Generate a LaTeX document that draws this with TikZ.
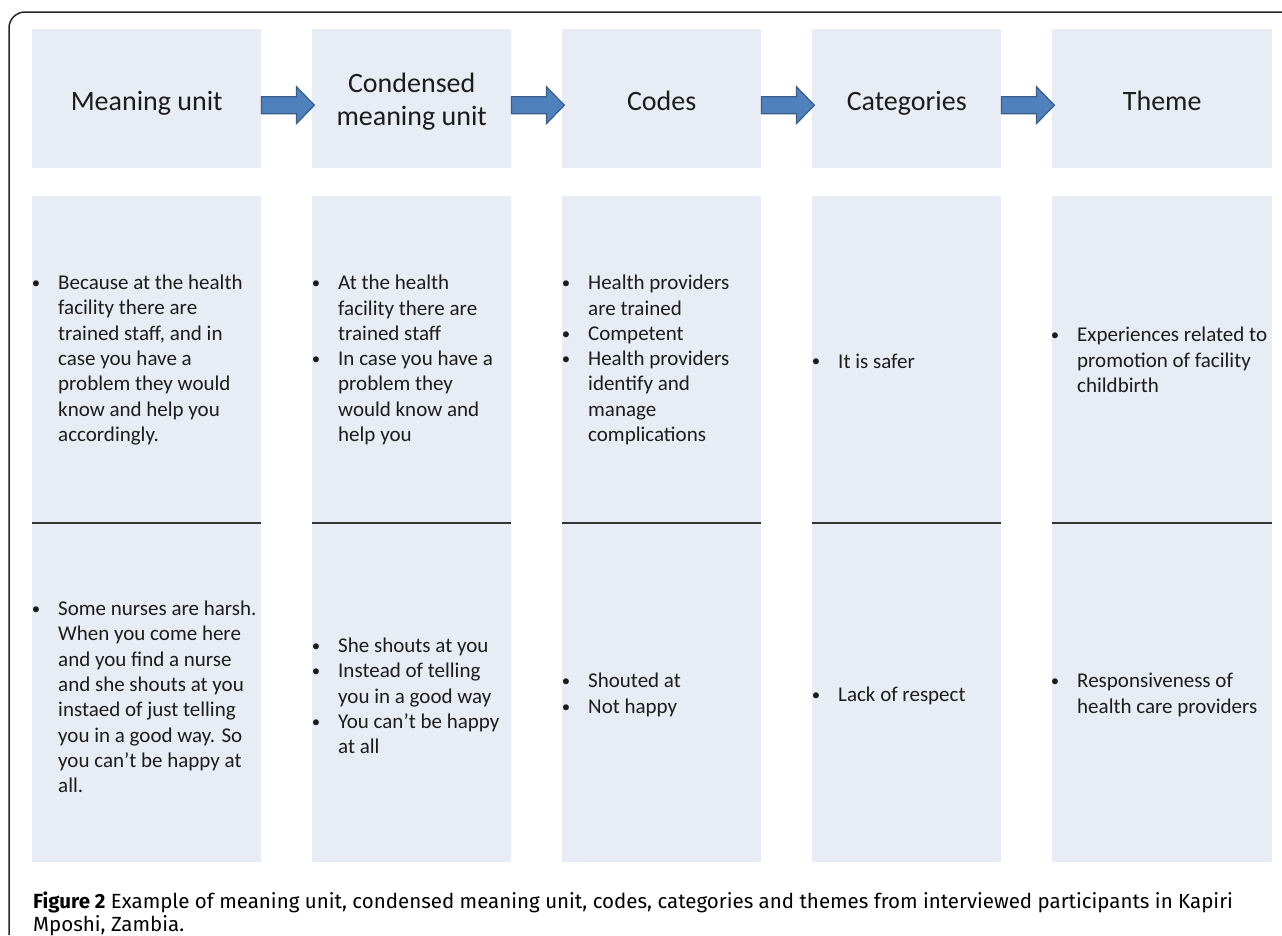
\documentclass[tikz,border=0pt]{standalone}
\usepackage{fontspec}
\setmainfont{Carlito}
\newfontfamily\capfont{Fira Sans}
\usetikzlibrary{arrows,shapes}

\definecolor{boxfill}{RGB}{232,236,244}
\definecolor{arrowfill}{RGB}{79,129,189}
\definecolor{arrowline}{RGB}{56,93,138}
\definecolor{textgray}{RGB}{28,28,28}

\newcommand{\bul}{\llap{\raisebox{1.2pt}{\scalebox{0.8}{\textbullet}}\hspace{18pt}}}

\begin{document}
\begin{tikzpicture}[x=1pt, y=-1pt, >=latex]
		\useasboundingbox (0,0) rectangle (1282,935);
		\tikzstyle{every node} = [inner sep=0pt, text=textgray]
		\tikzstyle{box} = [rectangle, fill=boxfill, anchor=north west]
		\tikzstyle{head} = [box, minimum height=139pt]
		\tikzstyle{headtext} = [anchor=base, align=center, font=\fontsize{28}{33}\selectfont]
		\tikzstyle{body} = [box, minimum height=666pt]
		\tikzstyle{item} = [anchor=west, align=left, font=\fontsize{21}{25.3}\selectfont]
		\tikzstyle{blockarrow} = [fill=arrowfill, draw=arrowline, line width=1.2pt, line join=miter]
		\tikzstyle{divline} = [draw=black!80, line width=1.6pt]

		% outer frame
		\draw [black!85, line width=1.5pt, rounded corners=16pt] (9,935) -- (9,12) -- (1282,12);

		% header row
		\node [head, minimum width=229pt] (h1) at (32,29) {};
		\node [head, minimum width=199pt] (h2) at (312,29) {};
		\node [head, minimum width=199pt] (h3) at (562,29) {};
		\node [head, minimum width=189pt] (h4) at (812,29) {};
		\node [head, minimum width=220pt] (h5) at (1052,29) {};

		\node [headtext] (l1) at ([yshift=-11.5pt]h1.center) {Meaning unit};
		\node [headtext] (l2) at ([yshift=-26.5pt]h2.center) {Condensed\\meaning unit};
		\node [headtext] (l3) at ([yshift=-11.5pt]h3.center) {Codes};
		\node [headtext] (l4) at ([yshift=-11.5pt]h4.center) {Categories};
		\node [headtext] (l5) at ([yshift=-11.5pt]h5.center) {Theme};

		% body columns
		\node [body, minimum width=229pt] (b1) at (32,196) {};
		\node [body, minimum width=199pt] (b2) at (312,196) {};
		\node [body, minimum width=199pt] (b3) at (562,196) {};
		\node [body, minimum width=189pt] (b4) at (812,196) {};
		\node [body, minimum width=220pt] (b5) at (1052,196) {};

		% block arrows between the headers
		\draw [blockarrow] ([yshift=-6.5pt]h1.east) ++(0,-8.5) -- ++(35,0) -- ++(0,-10) -- ++(18,18.5) -- ++(-18,18.5) -- ++(0,-10) -- ++(-35,0) -- cycle;
		\draw [blockarrow] ([yshift=-6.5pt]h2.east) ++(0,-8.5) -- ++(35,0) -- ++(0,-10) -- ++(18,18.5) -- ++(-18,18.5) -- ++(0,-10) -- ++(-35,0) -- cycle;
		\draw [blockarrow] ([yshift=-6.5pt]h3.east) ++(0,-8.5) -- ++(35,0) -- ++(0,-10) -- ++(18,18.5) -- ++(-18,18.5) -- ++(0,-10) -- ++(-35,0) -- cycle;
		\draw [blockarrow] ([yshift=-6.5pt]h4.east) ++(0,-8.5) -- ++(35,0) -- ++(0,-10) -- ++(18,18.5) -- ++(-18,18.5) -- ++(0,-10) -- ++(-35,0) -- cycle;

		% separators
		\draw [divline] ([yshift=-327pt]b1.north west) -- ([yshift=-327pt]b1.north east);
		\draw [divline] ([yshift=-327pt]b2.north west) -- ([yshift=-327pt]b2.north east);
		\draw [divline] ([yshift=-327pt]b3.north west) -- ([yshift=-327pt]b3.north east);
		\draw [divline] ([yshift=-327pt]b4.north west) -- ([yshift=-327pt]b4.north east);
		\draw [divline] ([yshift=-327pt]b5.north west) -- ([yshift=-327pt]b5.north east);

		% first example
		\node [item] (t1) at (58,360) {\bul Because at the health\\facility there are\\trained staff, and in\\case you have a\\problem they would\\know and help you\\accordingly.};
		\node [item] (t2) at (338,360) {\bul At the health\\facility there are\\trained staff\\\bul In case you have a\\problem they\\would know and\\help you};
		\node [item] (t3) at (588,360) {\bul Health providers\\are trained\\\bul Competent\\\bul Health providers\\identify and\\manage\\complications};
		\node [item] (t4) at (838,361) {\bul It is safer};
		\node [item] (t5) at (1077,360) {\bul Experiences related to\\promotion of facility\\childbirth};

		% second example
		\node [item] (u1) at (58,697) {\bul Some nurses are harsh.\\When you come here\\and you find a nurse\\and she shouts at you\\instaed of just telling\\you in a good way. So\\you can’t be happy at\\all.};
		\node [item] (u2) at (338,696) {\bul She shouts at you\\\bul Instead of telling\\you in a good way\\\bul You can’t be happy\\at all};
		\node [item] (u3) at (588,695) {\bul Shouted at\\\bul Not happy};
		\node [item] (u4) at (838,696) {\bul Lack of respect};
		\node [item] (u5) at (1077,695) {\bul Responsiveness of\\health care providers};

		% caption
		\node [anchor=base west, align=left, text=black, font=\capfont\fontsize{20.5}{23}\selectfont] (cap) at (33,931) {\textbf{Figure 2} Example of meaning unit, condensed meaning unit, codes, categories and themes from interviewed participants in Kapiri\\Mposhi, Zambia.};
		\end{tikzpicture}
\end{document}
